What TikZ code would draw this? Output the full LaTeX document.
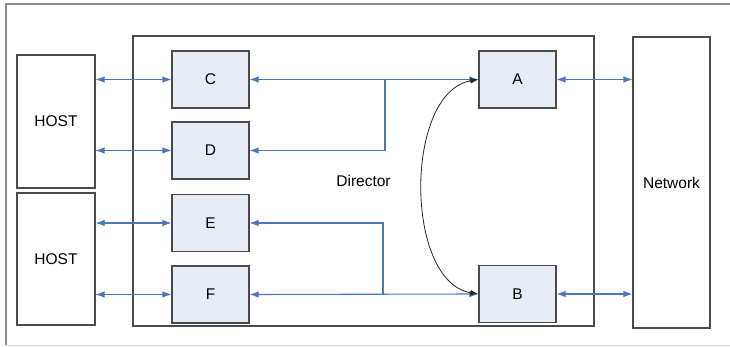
\documentclass[tikz,border=0pt]{standalone}
\usepackage{fontspec}
\setmainfont{Liberation Sans}
\usetikzlibrary{arrows.meta}

\definecolor{linkblue}{HTML}{4A76BE}
\definecolor{unitfill}{HTML}{E7EDF7}
\definecolor{edgegray}{HTML}{4A4A4A}
\definecolor{framegray}{HTML}{8C8C8C}

\tikzset{
  box/.style={draw=edgegray, line width=1.1pt, inner sep=0pt, font=\fontsize{15.5}{18}\selectfont},
  unit/.style={box, fill=unitfill, minimum width=77pt, minimum height=57pt},
  tip/.tip={Latex[length=9pt,width=6.5pt]},
  link/.style={linkblue, line width=1.1pt, tip-tip},
  feed/.style={linkblue, line width=1.1pt, -tip},
  swap/.style={black!85, line width=0.8pt, {Latex[length=8pt,width=5.5pt]}-{Latex[length=8pt,width=5.5pt]}}
}

\begin{document}
\begin{tikzpicture}[x=1pt,y=-1pt]
\useasboundingbox (0,0) rectangle (730,347);
% outer frame
\draw[framegray, line width=1.2pt] (730,4) -- (6,4) -- (6,345);
\draw[gray!30, line width=1pt] (6,345) -- (730,345);
% hosts, director and network
\node[box, minimum width=78pt, minimum height=133pt] (host1) at (56,121.5) {HOST};
\node[box, minimum width=78pt, minimum height=132pt] (host2) at (56,259) {HOST};
\node[box, minimum width=461pt, minimum height=290pt] (dir) at (363.5,181) {Director};
\node[box, minimum width=77pt, minimum height=291pt] (net) at (671.5,182.5) {Network};
% units
\node[unit] (C) at (210.5,79.5) {C};
\node[unit] (D) at (210.5,150.5) {D};
\node[unit] (E) at (210.5,223) {E};
\node[unit] (F) at (210.5,294.5) {F};
\node[unit] (A) at (517.5,79.5) {A};
\node[unit] (B) at (517.5,294) {B};
% host links
\foreach \u/\h in {C/host1, D/host1, E/host2, F/host2}
    \draw[link] (\u.west -| \h.east) -- (\u.west);
% network links
\foreach \u in {A, B}
    \draw[link] (\u.east) -- (\u.east -| net.west);
% internal links
\draw[link] (C.east) -- (A.west);
\draw[link] (F.east) -- (B.west);
\coordinate (jd) at (385,79.5);
\coordinate (je) at (383,294);
\draw[feed] (jd) |- (D.east);
\draw[feed] (je) |- (E.east);
\draw[swap] (A.west) .. controls (404,92) and (404,282) .. (B.west);
\end{tikzpicture}
\end{document}
